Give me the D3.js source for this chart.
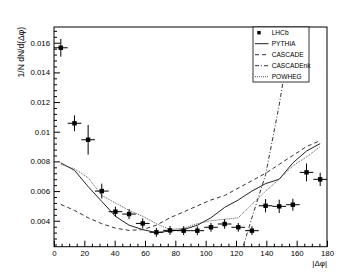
<!DOCTYPE html>
<html>
  <head>
    <meta charset="utf-8">
    <title>dN/d(dphi)</title>
    <style>
      body { margin: 0; background: #fff; }
      text { font-family: "Liberation Sans", Arial, sans-serif; }
    </style>
  </head>
  <body>
    <div><svg id='chart'/></div>
  </body>
  <script type="text/javascript" src="https://cdn.jsdelivr.net/npm/d3@7"></script>
  <script type="text/javascript">
    // bin centres in |dphi| (9 deg bins)
    const binCentres = [4.5, 13.5, 22.5, 31.5, 40.5, 49.5, 58.5, 67.5, 76.5, 85.5,
      94.5, 103.5, 112.5, 121.5, 130.5, 139.5, 148.5, 157.5, 166.5, 175.5];
    const binHalfWidth = 4.5;

    const lhcb = [0.01566, 0.01057, 0.00946, 0.0060, 0.00461, 0.00445, 0.00382, 0.00322, 0.00335, 0.00333,
      0.00333, 0.00356, 0.00378, 0.00356, 0.00333, 0.00501, 0.00497, 0.00508, 0.00726, 0.00679];
    const lhcbErr = [0.0006, 0.00053, 0.001, 0.0005, 0.00034, 0.00034, 0.00034, 0.0003, 0.0003, 0.0003,
      0.0003, 0.0003, 0.00032, 0.0003, 0.0003, 0.00045, 0.00045, 0.0004, 0.0006, 0.00045];

    const pythia = [0.0079, 0.0074, 0.0063, 0.0053, 0.0043, 0.0037, 0.0034, 0.0032, 0.0033, 0.0034,
      0.0037, 0.0042, 0.0049, 0.0054, 0.0060, 0.0065, 0.0068, 0.0079, 0.0087, 0.0092];
    const cascade = [0.0051, 0.0047, 0.0042, 0.0038, 0.0035, 0.00335, 0.0034, 0.0037, 0.0042, 0.0046,
      0.0050, 0.0054, 0.0057, 0.0062, 0.0067, 0.0072, 0.0078, 0.0084, 0.0090, 0.0094];
    const powheg = [0.0078, 0.0075, 0.0069, 0.0057, 0.0052, 0.0047, 0.0043, 0.0038, 0.0034, 0.0035,
      0.0038, 0.0040, 0.0041, 0.0042, 0.0051, 0.0060, 0.0068, 0.0077, 0.0083, 0.0090];
    // CASCADEnk only shows up in the last bins, the rest is below the frame
    const cascadeNkBins = [121.5, 130.5, 139.5, 148.5, 157.5];
    const cascadeNk = [0.0012, 0.0042, 0.0071, 0.0118, 0.0175];

    const xTicks = [0, 20, 40, 60, 80, 100, 120, 140, 160, 180];
    const yTicks = [0.004, 0.006, 0.008, 0.01, 0.012, 0.014, 0.016];

    const [width, height] = [363, 275];
    const svg = d3.select('#chart')
      .attr('width', width)
      .attr('height', height)

    const x = d3.scaleLinear().domain([0, 180]).range([54, 327]);
    const y = d3.scaleLinear().domain([0.00225, 0.01706]).range([246.7, 27]);

    svg.append('defs').append('clipPath').attr('id', 'frame')
      .append('rect')
      .attr('x', x(0)).attr('y', y(0.01706))
      .attr('width', x(180) - x(0)).attr('height', y(0.00225) - y(0.01706));

    // axes, ROOT style ticks pointing inwards
    const axisFont = 7.8;
    const yMinor = d3.range(0.0024, 0.01706, 0.0004).filter(v => Math.abs(v / 0.002 - Math.round(v / 0.002)) > 0.01);
    const xMinor = d3.range(5, 180, 5).filter(v => v % 20 !== 0);

    const yAxis = svg.append('g')
      .attr('transform', 'translate(' + x(0) + ',0)')
      .call(d3.axisLeft(y).tickValues(yTicks).tickSizeInner(-6).tickSizeOuter(0).tickPadding(4)
        .tickFormat(d => String(+d.toFixed(3))));
    svg.append('g')
      .attr('transform', 'translate(' + x(0) + ',0)')
      .call(d3.axisLeft(y).tickValues(yMinor).tickSizeInner(-3).tickSizeOuter(0).tickFormat(''));

    const xAxis = svg.append('g')
      .attr('transform', 'translate(0,' + y(0.00225) + ')')
      .call(d3.axisBottom(x).tickValues(xTicks).tickSizeInner(-6).tickSizeOuter(0).tickPadding(4));
    svg.append('g')
      .attr('transform', 'translate(0,' + y(0.00225) + ')')
      .call(d3.axisBottom(x).tickValues(xMinor).tickSizeInner(-3).tickSizeOuter(0).tickFormat(''));

    svg.selectAll('.domain').remove();
    svg.selectAll('.tick line').attr('stroke', '#000').attr('stroke-width', 1);
    svg.selectAll('.tick text')
      .style('font-size', axisFont + 'px')
      .attr('fill', '#000');

    // frame
    svg.append('rect')
      .attr('x', x(0)).attr('y', y(0.01706))
      .attr('width', x(180) - x(0)).attr('height', y(0.00225) - y(0.01706))
      .attr('fill', 'none').attr('stroke', '#000').attr('stroke-width', 1);

    // axis titles
    svg.append('text')
      .attr('transform', 'translate(24,' + y(0.01706) + ') rotate(-90)')
      .attr('text-anchor', 'end')
      .style('font-size', '8.5px')
      .text('1/N dN/d(Δφ)');
    svg.append('text')
      .attr('x', x(180)).attr('y', 265.5)
      .attr('text-anchor', 'end')
      .style('font-size', '8px')
      .text('|Δφ|');

    // model curves
    const plot = svg.append('g').attr('clip-path', 'url(#frame)');
    const line = d3.line().x(d => x(d[0])).y(d => y(d[1]));
    const models = [
      { name: 'PYTHIA', xs: binCentres, ys: pythia, dash: null, color: '#222' },
      { name: 'CASCADE', xs: binCentres, ys: cascade, dash: '4,3', color: '#333' },
      { name: 'CASCADEnk', xs: cascadeNkBins, ys: cascadeNk, dash: '4,2,1,2', color: '#333' },
      { name: 'POWHEG', xs: binCentres, ys: powheg, dash: '1,1', color: '#555' }
    ];
    plot.selectAll('path.model')
      .data(models)
      .enter()
      .append('path')
      .attr('class', 'model')
      .attr('fill', 'none')
      .attr('stroke', d => d.color)
      .attr('stroke-width', 1)
      .attr('stroke-dasharray', d => d.dash)
      .attr('d', d => line(d.xs.map((v, i) => [v, d.ys[i]])));

    // LHCb points with error bars
    const pts = plot.selectAll('g.pt')
      .data(lhcb.map((v, i) => ({ x: binCentres[i], y: v, e: lhcbErr[i] })))
      .enter()
      .append('g')
      .attr('class', 'pt');
    pts.append('line')
      .attr('x1', d => x(d.x - binHalfWidth)).attr('x2', d => x(d.x + binHalfWidth))
      .attr('y1', d => y(d.y)).attr('y2', d => y(d.y))
      .attr('stroke', '#000').attr('stroke-width', 1);
    pts.append('line')
      .attr('x1', d => x(d.x)).attr('x2', d => x(d.x))
      .attr('y1', d => y(d.y - d.e)).attr('y2', d => y(d.y + d.e))
      .attr('stroke', '#000').attr('stroke-width', 1);
    pts.append('rect')
      .attr('x', d => x(d.x) - 2.2).attr('y', d => y(d.y) - 2.2)
      .attr('width', 4.4).attr('height', 4.4)
      .attr('fill', '#000');

    // legend
    const lg = svg.append('g').attr('transform', 'translate(253,27)');
    lg.append('rect')
      .attr('width', 56).attr('height', 55)
      .attr('fill', '#fff').attr('stroke', '#000').attr('stroke-width', 0.8);
    const entries = [{ name: 'LHCb', marker: true }].concat(models);
    const row = lg.selectAll('g.row')
      .data(entries)
      .enter()
      .append('g')
      .attr('class', 'row')
      .attr('transform', (d, i) => 'translate(0,' + (5.7 + i * 11) + ')');
    row.filter(d => d.marker)
      .append('rect')
      .attr('x', 4.3).attr('y', -1.7).attr('width', 3.4).attr('height', 3.4)
      .attr('fill', '#000');
    row.filter(d => !d.marker)
      .append('line')
      .attr('x1', 2).attr('x2', 15.5).attr('y1', 0).attr('y2', 0)
      .attr('stroke', d => d.color).attr('stroke-width', 1)
      .attr('stroke-dasharray', d => d.dash);
    row.append('text')
      .attr('x', 18.7).attr('y', 2.4)
      .style('font-size', '6.6px')
      .text(d => d.name);
  </script>
</html>
